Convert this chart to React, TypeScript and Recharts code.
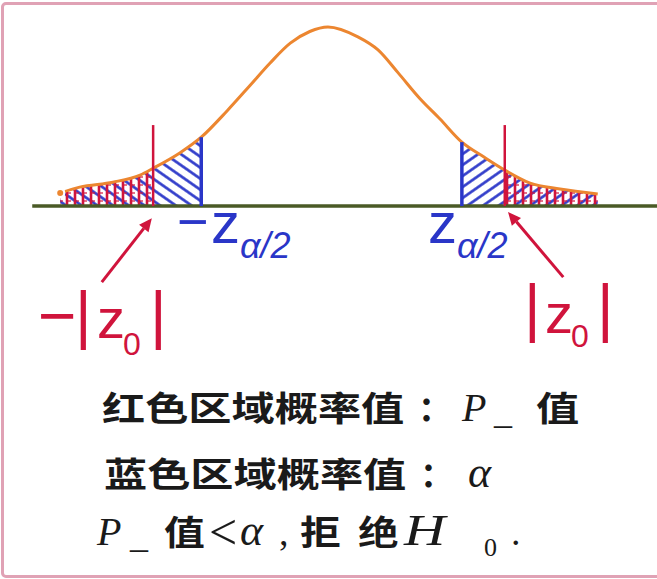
import React from "react";
import { ComposedChart, XAxis, YAxis, Area, Line, ReferenceLine, Customized } from "recharts";

// standardised statistic (z) and density height
const zValues = [-4.12, -3.82, -3.31, -2.89, -2.69, -2.28, -1.95, -1.55, -1.2, -0.89, -0.58, -0.28, 0, 0.46, 0.77, 1.08, 1.42, 1.72, 2.06, 2.4, 2.72, 3.11, 3.57, 4.15];
const density = [0.029, 0.042, 0.053, 0.069, 0.084, 0.118, 0.153, 0.212, 0.268, 0.318, 0.362, 0.388, 0.398, 0.376, 0.347, 0.296, 0.238, 0.194, 0.142, 0.109, 0.08, 0.051, 0.038, 0.027];

// critical values and observed |z0|
const critLeft = -1.95;
const critRight = 2.06;
const obsLeft = -2.69;
const obsRight = 2.72;
const obsMarkTop = 0.18;
const axisStart = -4.55;
const xDomain = [-5.046, 5.062];
const yDomain = [-0.829, 0.458];

// arrows from the |z0| labels to the markers
const arrowLeft = [{ x: -3.48, y: -0.169 }, { x: -2.71, y: -0.027 }];
const arrowRight = [{ x: 3.62, y: -0.158 }, { x: 2.77, y: -0.013 }];

const ORANGE = "#ec8630";
const BLUE = "#2a36c8";
const RED = "#d0143c";
const AXIS = "#4a5a26";

const rows = zValues.map((z, i) => ({
  z,
  curve: density[i],
  blueL: z <= critLeft ? density[i] : null,
  blueR: z >= critRight ? density[i] : null,
  redL: z <= obsLeft ? density[i] : null,
  redR: z >= obsRight ? density[i] : null,
}));

const heightAt = (z: number) => density[zValues.indexOf(z)];

function Arrow(props: any) {
  const { x1, y1, x2, y2 } = props;
  const a = Math.atan2(y2 - y1, x2 - x1);
  const len = 13;
  const w = 6;
  const bx = x2 - len * Math.cos(a);
  const by = y2 - len * Math.sin(a);
  const px = -Math.sin(a) * w;
  const py = Math.cos(a) * w;
  return (
    <g>
      <line x1={x1} y1={y1} x2={bx} y2={by} stroke={RED} strokeWidth={3} />
      <polygon points={`${x2},${y2} ${bx + px},${by + py} ${bx - px},${by - py}`} fill={RED} />
    </g>
  );
}

const cjk = "'Noto Sans CJK SC', sans-serif";
const serifIt = "'Liberation Serif', serif";
const sans = "'Liberation Sans', Arial, sans-serif";

function T(p: { x: number; y: number; size: number; font: string; color?: string; italic?: boolean; sx?: number; children: React.ReactNode; weight?: number }) {
  return (
    <text
      transform={`translate(${p.x},${p.y}) scale(${p.sx ?? 1},1)`}
      fontSize={p.size}
      fontFamily={p.font}
      fontStyle={p.italic ? "italic" : "normal"}
      fontWeight={p.weight ?? 400}
      fill={p.color ?? "#1a1a1a"}
    >
      {p.children}
    </text>
  );
}

function Decor() {
  return (
    <g>
      <defs>
        <pattern id="hatchL" patternUnits="userSpaceOnUse" width={10} height={9} patternTransform="rotate(35)">
          <rect width={10} height={9} fill="#fff" />
          <line x1={0} y1={4.5} x2={10} y2={4.5} stroke={BLUE} strokeWidth={2.6} />
        </pattern>
        <pattern id="hatchR" patternUnits="userSpaceOnUse" width={10} height={9} patternTransform="rotate(-35)">
          <rect width={10} height={9} fill="#fff" />
          <line x1={0} y1={4.5} x2={10} y2={4.5} stroke={BLUE} strokeWidth={2.6} />
        </pattern>
        <pattern id="redV" patternUnits="userSpaceOnUse" width={8} height={8}>
          <line x1={3} y1={0} x2={3} y2={8} stroke={RED} strokeWidth={2.6} />
          <line x1={3} y1={1} x2={7} y2={1} stroke={RED} strokeWidth={1.2} />
        </pattern>
      </defs>
    </g>
  );
}

const CW = 600;

function Labels() {
  return (
    <g>
      {/* -z a/2 */}
      <T x={177} y={240} size={54} font={sans} color={BLUE}>−</T>
      <T x={211} y={243} size={58} font={sans} color={BLUE}>z</T>
      <T x={240} y={258} size={36} font={sans} color={BLUE} italic>α/2</T>
      {/* z a/2 */}
      <T x={428} y={243} size={58} font={sans} color={BLUE}>z</T>
      <T x={457} y={258} size={36} font={sans} color={BLUE} italic>α/2</T>
      {/* -|z0| */}
      <T x={38} y={338} size={66} font={sans} color={RED}>−</T>
      <T x={75} y={337} size={64} font={sans} color={RED}>|</T>
      <T x={97} y={338} size={56} font={sans} color={RED}>z</T>
      <T x={123} y={355} size={32} font={sans} color={RED}>0</T>
      <T x={150} y={337} size={64} font={sans} color={RED}>|</T>
      {/* |z0| */}
      <T x={524} y={330} size={64} font={sans} color={RED}>|</T>
      <T x={545} y={333} size={56} font={sans} color={RED}>z</T>
      <T x={571} y={347} size={32} font={sans} color={RED}>0</T>
      <T x={597} y={330} size={64} font={sans} color={RED}>|</T>

      {/* explanation */}
      <T x={102} y={421} size={34} font={cjk} sx={1.27} weight={CW}>红色区域概率值</T>
      <T x={418} y={421} size={34} font={cjk} weight={CW}>：</T>
      <T x={462} y={421} size={40} font={serifIt} italic>P</T>
      <T x={494} y={423} size={36} font={serifIt}>_</T>
      <T x={536} y={421} size={34} font={cjk} sx={1.27} weight={CW}>值</T>

      <T x={104} y={487} size={34} font={cjk} sx={1.27} weight={CW}>蓝色区域概率值</T>
      <T x={420} y={487} size={34} font={cjk} weight={CW}>：</T>
      <T x={468} y={487} size={44} font={serifIt} italic>α</T>

      <T x={97} y={545} size={40} font={serifIt} italic>P</T>
      <T x={130} y={547} size={36} font={serifIt}>_</T>
      <T x={164} y={545} size={34} font={cjk} sx={1.2} weight={CW}>值</T>
      <T x={209} y={549} size={50} font={serifIt}>&lt;</T>
      <T x={240} y={545} size={44} font={serifIt} italic>α</T>
      <T x={279} y={545} size={38} font={serifIt}>,</T>
      <T x={300} y={545} size={34} font={cjk} sx={1.2} weight={CW}>拒</T>
      <T x={358} y={545} size={34} font={cjk} sx={1.2} weight={CW}>绝</T>
      <T x={404} y={545} size={44} font={serifIt} sx={1.3} italic>H</T>
      <T x={484} y={556} size={26} font={serifIt}>0</T>
      <T x={511} y={545} size={38} font={serifIt}>.</T>
    </g>
  );
}

export default function App() {
  return (
    <div style={{ position: "absolute", left: 0, top: 0, width: 657, height: 579, overflow: "hidden", background: "#fff" }}>
      <div
        style={{
          position: "absolute",
          left: 1,
          top: 2,
          width: 700,
          height: 576,
          boxSizing: "border-box",
          border: "3px solid #e0a2b5",
          borderRadius: 5,
        }}
      />
      <div style={{ position: "absolute", left: 0, top: 0 }}>
        <ComposedChart width={657} height={579} data={rows} margin={{ top: 0, right: 0, bottom: 0, left: 0 }}>
          <Customized component={<Decor />} />
          <XAxis type="number" dataKey="z" domain={xDomain} allowDataOverflow hide />
          <YAxis type="number" domain={yDomain} allowDataOverflow hide />
          <Area type="monotone" dataKey="blueL" stroke="none" fill="url(#hatchL)" fillOpacity={1} isAnimationActive={false} />
          <Area type="monotone" dataKey="blueR" stroke="none" fill="url(#hatchR)" fillOpacity={1} isAnimationActive={false} />
          <Area type="monotone" dataKey="redL" stroke="none" fill="url(#redV)" fillOpacity={1} isAnimationActive={false} />
          <Area type="monotone" dataKey="redR" stroke="none" fill="url(#redV)" fillOpacity={1} isAnimationActive={false} />
          <Line type="monotone" dataKey="curve" stroke={ORANGE} strokeWidth={3} dot={false} isAnimationActive={false} />
          <ReferenceLine segment={[{ x: axisStart, y: 0 }, { x: xDomain[1], y: 0 }]} stroke={AXIS} strokeWidth={3.5} />
          <ReferenceLine segment={[{ x: critLeft, y: 0 }, { x: critLeft, y: heightAt(critLeft) }]} stroke={BLUE} strokeWidth={3.5} />
          <ReferenceLine segment={[{ x: critRight, y: 0 }, { x: critRight, y: heightAt(critRight) }]} stroke={BLUE} strokeWidth={3.5} />
          <ReferenceLine segment={[{ x: obsLeft, y: 0 }, { x: obsLeft, y: obsMarkTop }]} stroke={RED} strokeWidth={2.5} />
          <ReferenceLine segment={[{ x: obsRight, y: 0 }, { x: obsRight, y: obsMarkTop }]} stroke={RED} strokeWidth={2.5} />
          <ReferenceLine segment={arrowLeft} shape={Arrow} />
          <ReferenceLine segment={arrowRight} shape={Arrow} />
          <Customized component={<Labels />} />
        </ComposedChart>
      </div>
    </div>
  );
}
